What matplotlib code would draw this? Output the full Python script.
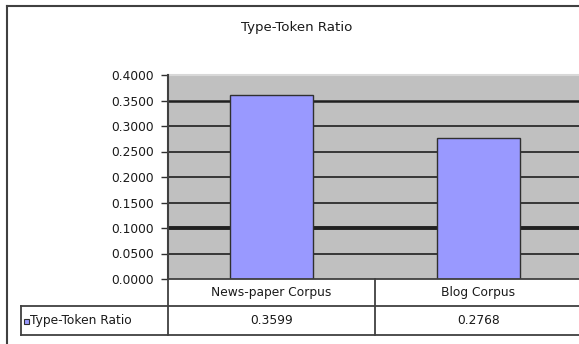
import matplotlib
matplotlib.use("Agg")
from matplotlib import pyplot as plt
from matplotlib.lines import Line2D
from matplotlib.patches import Rectangle

# chart data
categories = ["News-paper Corpus", "Blog Corpus"]
series_name = "Type-Token Ratio"
ratios = [0.3599, 0.2768]
y_ticks = [0.0, 0.05, 0.10, 0.15, 0.20, 0.25, 0.30, 0.35, 0.40]

W, H = 579, 344
FS = 8.8
TXT = "#1a1a1a"
plt.rcParams["font.family"] = ["DejaVu Sans"]
fig = plt.figure(figsize=(W / 100, H / 100), dpi=100)


def fx(px):
    return px / W


def fy(py):
    return 1 - py / H


# plot area in pixel units (right edge runs past the image)
left, right, top, bottom = 168, 582, 75, 279
ax = fig.add_axes([fx(left), fy(bottom), fx(right) - fx(left), fy(top) - fy(bottom)])
ax.set_facecolor("#c0c0c0")

# gridlines, the 0.1 one renders heavier
for v in y_ticks[1:-1]:
    lw = 2.8 if abs(v - 0.10) < 1e-9 else (1.8 if abs(v - 0.35) < 1e-9 else 1.2)
    ax.axhline(v, color="#202020", linewidth=lw, zorder=1)

x = range(len(categories))
ax.bar(x, ratios, width=0.40, color="#9999ff", edgecolor="#303030", linewidth=1.0, zorder=2)

ax.set_xlim(-0.5, 1.5)
ax.set_ylim(0, 0.40)
ax.set_yticks(y_ticks)
ax.set_yticklabels([f"{v:.4f}" for v in y_ticks], fontsize=FS, color=TXT)
ax.tick_params(axis="y", length=5, width=1, color="#303030", pad=5)
ax.tick_params(axis="x", bottom=False, labelbottom=False)
for side in ["top", "right", "bottom"]:
    ax.spines[side].set_visible(False)
ax.spines["left"].set_color("#404040")
ax.spines["left"].set_linewidth(1.5)
ax.add_line(Line2D([0, 1], [1, 1], transform=ax.transAxes, color="#d8d8d8", linewidth=1.5, clip_on=False))

# outer chart border
for xs, ys in [([7, W], [6, 6]), ([7, 7], [6, 343])]:
    fig.add_artist(Line2D([fx(v) for v in xs], [fy(v) for v in ys], color="#404040", linewidth=1.5))

fig.text(fx(297), fy(27), "Type-Token Ratio", ha="center", va="center", fontsize=9.6, color=TXT)

# data table under the plot
row1, row2, row3 = 279, 306, 335
table_lines = [
    ([left, W], [row1, row1]),
    ([21, W], [row2, row2]),
    ([21, W], [row3, row3]),
    ([left, left], [row1, row3]),
    ([21, 21], [row2, row3]),
]
for xs, ys in table_lines:
    fig.add_artist(Line2D([fx(v) for v in xs], [fy(v) for v in ys], color="#404040", linewidth=1.3))

# category dividers and cell text follow the axis scale
xform = ax.get_xaxis_transform()
span = bottom - top
for i in range(1, len(categories)):
    ax.add_line(Line2D([i - 0.5, i - 0.5], [0, -(row3 - row1) / span],
                       transform=xform, color="#404040", linewidth=1.3, clip_on=False))

for i, (cat, val) in enumerate(zip(categories, ratios)):
    ax.text(i, -((row1 + row2) / 2 - row1) / span, cat, transform=xform,
            ha="center", va="center", fontsize=FS, color=TXT, clip_on=False)
    ax.text(i, -((row2 + row3) / 2 - row1) / span, f"{val:.4f}", transform=xform,
            ha="center", va="center", fontsize=FS, color=TXT, clip_on=False)

# legend key in the table
fig.add_artist(Rectangle((fx(24), fy(324)), fx(5), fy(0) - fy(5), transform=fig.transFigure,
                         facecolor="#9999ff", edgecolor="#303030", linewidth=0.8))
fig.text(fx(30), fy(320.5), series_name, ha="left", va="center", fontsize=FS, color=TXT)

fig.savefig("out.png", dpi=100)
